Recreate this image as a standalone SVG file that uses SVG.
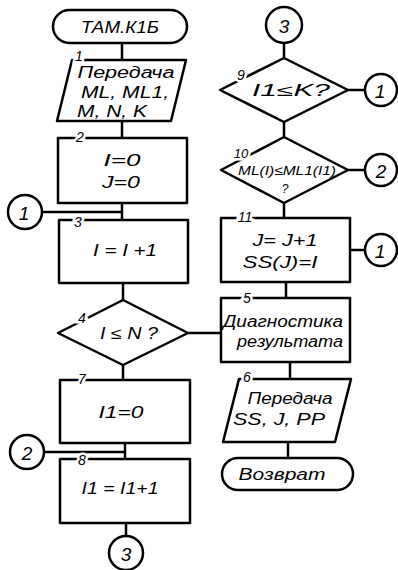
<svg xmlns="http://www.w3.org/2000/svg" width="398" height="570" viewBox="0 0 398 570">
<style>
.s{fill:none;stroke:#000;stroke-width:2.5;stroke-linejoin:round}
.c{fill:none;stroke:#000;stroke-width:2.5}
.t{font-family:"Liberation Sans","DejaVu Sans",sans-serif;font-style:italic;font-size:16px;fill:#000;text-anchor:middle;dominant-baseline:central}
.n{font-family:"Liberation Sans","DejaVu Sans",sans-serif;font-style:italic;font-size:14px;fill:#000;text-anchor:middle;dominant-baseline:central;stroke:#fff;stroke-width:5;paint-order:stroke fill}
.cn{font-family:"Liberation Sans","DejaVu Sans",sans-serif;font-style:italic;font-size:19px;fill:#000;text-anchor:middle;dominant-baseline:central}
</style>
<g id="connectors" class="c">
<line x1="122" y1="43" x2="122" y2="60"/>
<line x1="122" y1="121" x2="122" y2="138"/>
<line x1="122" y1="203" x2="122" y2="220"/>
<line x1="42" y1="212" x2="122" y2="212"/>
<line x1="123" y1="283" x2="123" y2="300"/>
<line x1="188" y1="333" x2="221" y2="333"/>
<line x1="123" y1="365" x2="123" y2="380"/>
<line x1="125" y1="443" x2="125" y2="459"/>
<line x1="44" y1="452" x2="125" y2="452"/>
<line x1="126" y1="523" x2="126" y2="536"/>
<line x1="284" y1="43" x2="284" y2="58"/>
<line x1="348" y1="90" x2="365" y2="90"/>
<line x1="284" y1="122" x2="284" y2="137"/>
<line x1="348" y1="170" x2="365" y2="170"/>
<line x1="284" y1="203" x2="284" y2="218"/>
<line x1="350" y1="250" x2="365" y2="250"/>
<line x1="286" y1="282" x2="286" y2="298"/>
<line x1="290" y1="362" x2="290" y2="379"/>
<line x1="288" y1="442" x2="288" y2="458"/>
</g>
<g id="start">
<rect class="s" x="53" y="10" width="134" height="33" rx="16.5"/>
<text class="t" x="120" y="27" textLength="78" lengthAdjust="spacingAndGlyphs">ТАМ.К1Б</text>
</g>
<g id="n1">
<polygon class="s" points="72,60 186,60 171,121 57,121"/>
<text class="n" x="79" y="56">1</text>
<text class="t" x="126" y="72" textLength="97" lengthAdjust="spacingAndGlyphs">Передача</text>
<text class="t" x="125" y="92" textLength="88" lengthAdjust="spacingAndGlyphs">ML, ML1,</text>
<text class="t" x="112" y="111" textLength="70" lengthAdjust="spacingAndGlyphs">M, N, K</text>
</g>
<g id="n2">
<rect class="s" x="58" y="138" width="129" height="65"/>
<text class="n" x="80" y="137">2</text>
<text class="t" x="122" y="160" textLength="37" lengthAdjust="spacingAndGlyphs">I=0</text>
<text class="t" x="121" y="182" textLength="38" lengthAdjust="spacingAndGlyphs">J=0</text>
</g>
<g id="c1a">
<circle class="s" cx="25" cy="212" r="17"/>
<text class="cn" x="24" y="213">1</text>
</g>
<g id="n3">
<rect class="s" x="59" y="220" width="129" height="63"/>
<text class="n" x="78" y="222">3</text>
<text class="t" x="125" y="250" textLength="64" lengthAdjust="spacingAndGlyphs">I = I +1</text>
</g>
<g id="n4">
<polygon class="s" points="123,300 188,333 123,365 58,333"/>
<text class="n" x="82" y="318">4</text>
<text class="t" x="129" y="333" textLength="58" lengthAdjust="spacingAndGlyphs">I ≤ N ?</text>
</g>
<g id="n7">
<rect class="s" x="60" y="380" width="130" height="63"/>
<text class="n" x="82" y="379">7</text>
<text class="t" x="121" y="412" textLength="45" lengthAdjust="spacingAndGlyphs">I1=0</text>
</g>
<g id="c2a">
<circle class="s" cx="27" cy="452" r="17"/>
<text class="cn" x="27" y="453">2</text>
</g>
<g id="n8">
<rect class="s" x="60" y="459" width="130" height="64"/>
<text class="n" x="82" y="460">8</text>
<text class="t" x="120" y="488" textLength="77" lengthAdjust="spacingAndGlyphs">I1 = I1+1</text>
</g>
<g id="c3a">
<circle class="s" cx="126" cy="553" r="17"/>
<text class="cn" x="126" y="554">3</text>
</g>
<g id="c3b">
<circle class="s" cx="284" cy="25" r="18"/>
<text class="cn" x="284" y="26">3</text>
</g>
<g id="n9">
<polygon class="s" points="284,58 348,90 284,122 220,90"/>
<text class="n" x="241" y="75">9</text>
<text class="t" x="291" y="90" textLength="78" lengthAdjust="spacingAndGlyphs">I1≤K?</text>
</g>
<g id="c1b">
<circle class="s" cx="381" cy="90" r="16"/>
<text class="cn" x="380" y="91">1</text>
</g>
<g id="n10">
<polygon class="s" points="284,137 348,170 284,203 221,170"/>
<text class="n" x="241" y="153" style="font-size:13px">10</text>
<text class="t" x="287" y="170" style="font-size:13px" textLength="98" lengthAdjust="spacingAndGlyphs">ML(I)≤ML1(I1)</text>
<text class="t" x="285" y="189" style="font-size:12px">?</text>
</g>
<g id="c2b">
<circle class="s" cx="381" cy="170" r="16"/>
<text class="cn" x="381" y="171">2</text>
</g>
<g id="n11">
<rect class="s" x="221" y="218" width="129" height="64"/>
<text class="n" x="245" y="217">11</text>
<text class="t" x="285" y="240" textLength="65" lengthAdjust="spacingAndGlyphs">J= J+1</text>
<text class="t" x="280" y="262" textLength="75" lengthAdjust="spacingAndGlyphs">SS(J)=I</text>
</g>
<g id="c1c">
<circle class="s" cx="381" cy="250" r="16"/>
<text class="cn" x="380" y="251">1</text>
</g>
<g id="n5">
<rect class="s" x="221" y="298" width="129" height="64"/>
<text class="n" x="247" y="298">5</text>
<text class="t" x="283" y="321" textLength="120" lengthAdjust="spacingAndGlyphs">Диагностика</text>
<text class="t" x="290" y="341" textLength="106" lengthAdjust="spacingAndGlyphs">результата</text>
</g>
<g id="n6">
<polygon class="s" points="239,379 351,379 335,442 223,442"/>
<text class="n" x="247" y="377">6</text>
<text class="t" x="290" y="398" textLength="85" lengthAdjust="spacingAndGlyphs">Передача</text>
<text class="t" x="279" y="419" textLength="92" lengthAdjust="spacingAndGlyphs">SS, J, PP</text>
</g>
<g id="end">
<rect class="s" x="222" y="458" width="131" height="32" rx="16"/>
<text class="t" x="282" y="474" textLength="87" lengthAdjust="spacingAndGlyphs">Возврат</text>
</g>
</svg>
